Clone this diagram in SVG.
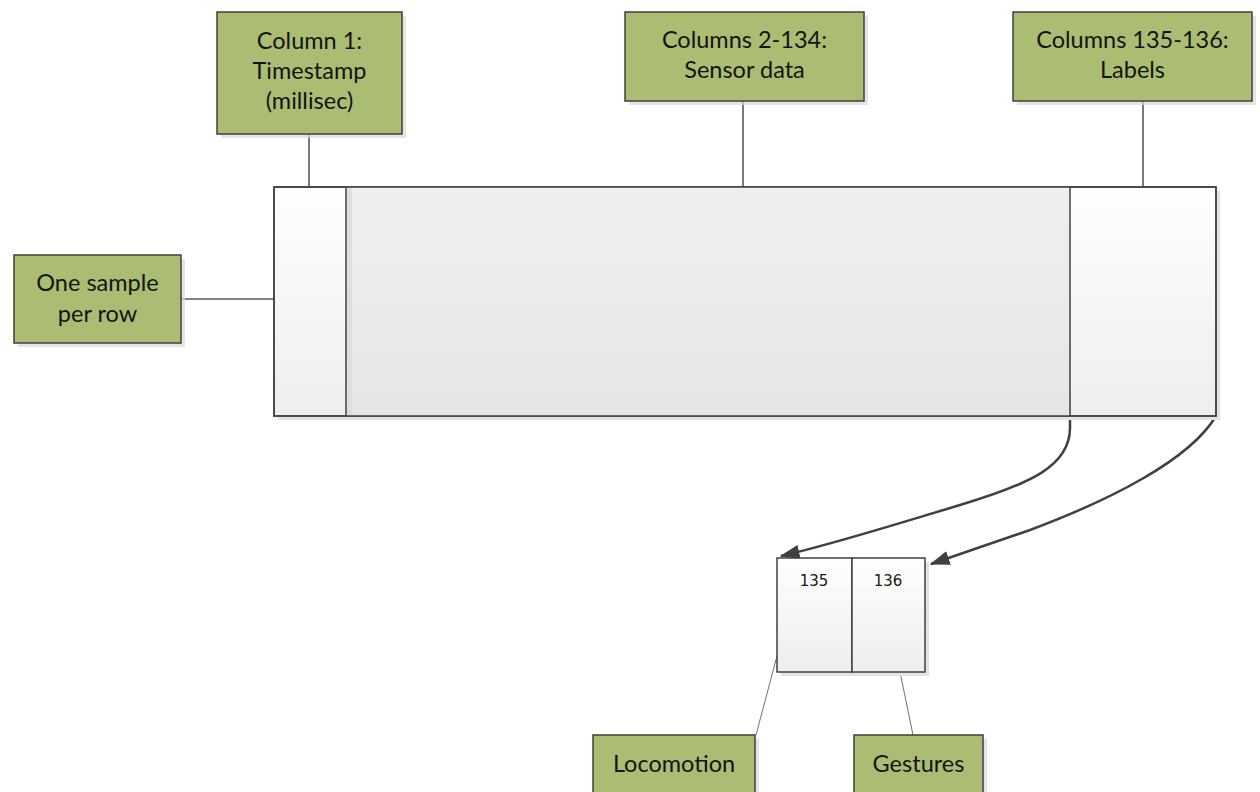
<svg xmlns="http://www.w3.org/2000/svg" width="1260" height="792" viewBox="0 0 1260 792">
<style>
.lbl{fill:#aabd72;stroke:#3f3f3f;stroke-width:1.5}
.shd{fill:#d9d9d9;opacity:0.7}
.t{font-family:Lato,"Open Sans",sans-serif;font-size:23.5px;fill:#141414;text-anchor:middle}
.n{font-family:"DejaVu Sans",sans-serif;font-size:15px;fill:#1a1a1a;text-anchor:middle}
.cell{stroke:#404040;stroke-width:1.5}
.con{fill:none;stroke:#595959;stroke-width:1.6}
.thin{fill:none;stroke:#707070;stroke-width:1}
.arc{fill:none;stroke:#404040;stroke-width:2.5}
</style>
<defs>
<linearGradient id="wg" x1="0" y1="0" x2="0" y2="1">
<stop offset="0" stop-color="#fefefe"/>
<stop offset="1" stop-color="#eeeeee"/>
</linearGradient>
<linearGradient id="mg" x1="0" y1="0" x2="0" y2="1">
<stop offset="0" stop-color="#efefef"/>
<stop offset="1" stop-color="#e6e6e6"/>
</linearGradient>
<marker id="ah" viewBox="0 0 14 10" refX="13" refY="5" markerWidth="8" markerHeight="5.7" orient="auto" markerUnits="strokeWidth">
<path d="M0,0 L14,5 L0,10 z" fill="#404040"/>
</marker>
</defs>
<rect width="1260" height="792" fill="#ffffff"/>

<g id="connectors">
<line class="con" x1="309" y1="134" x2="309" y2="187"/>
<line class="con" x1="743" y1="101" x2="743" y2="187"/>
<line class="con" x1="1143" y1="101" x2="1143" y2="187"/>
<line class="con" x1="181" y1="299" x2="274" y2="299"/>
<path class="arc" d="M1070,416 L1070,428 C1070,466 1030,484 960,505 C890,526 830,545 781,556" marker-end="url(#ah)"/>
<path class="arc" d="M1216,416 C1190,460 1110,500 1030,530 L931,564" marker-end="url(#ah)"/>
<line class="thin" x1="756" y1="735" x2="777" y2="656"/>
<line class="thin" x1="913" y1="735" x2="900" y2="672"/>
</g>

<g id="data-table">
<rect x="278" y="191" width="942" height="229" fill="#e3e3e3"/>
<rect class="cell" x="274" y="187" width="942" height="229" fill="url(#wg)"/>
<rect x="346" y="187" width="724" height="229" fill="url(#mg)"/>
<rect x="347" y="188" width="5" height="227" fill="#dedede"/>
<rect class="cell" x="274" y="187" width="942" height="229" fill="none"/>
<line class="cell" x1="346" y1="187" x2="346" y2="416"/>
<line class="cell" x1="1070" y1="187" x2="1070" y2="416"/>
</g>

<g id="label-cells">
<rect x="781" y="562" width="148" height="114" fill="#e3e3e3"/>
<rect class="cell" x="777" y="558" width="75" height="114" fill="url(#wg)"/>
<rect class="cell" x="852" y="558" width="73" height="114" fill="url(#wg)"/>
<text class="n" x="814" y="586">135</text>
<text class="n" x="888" y="586">136</text>
</g>

<g id="timestamp">
<rect class="shd" x="221" y="16" width="185" height="122"/>
<rect class="lbl" x="217" y="12" width="185" height="122"/>
<text class="t" x="309.5" y="49">Column 1:</text>
<text class="t" x="309.5" y="79">Timestamp</text>
<text class="t" x="309.5" y="109">(millisec)</text>
</g>

<g id="sensor">
<rect class="shd" x="629" y="16" width="239" height="89"/>
<rect class="lbl" x="625" y="12" width="239" height="89"/>
<text class="t" x="744.5" y="48">Columns 2-134:</text>
<text class="t" x="744.5" y="78">Sensor data</text>
</g>

<g id="labels">
<rect class="shd" x="1017" y="16" width="239" height="89"/>
<rect class="lbl" x="1013" y="12" width="239" height="89"/>
<text class="t" x="1132.5" y="48">Columns 135-136:</text>
<text class="t" x="1132.5" y="78">Labels</text>
</g>

<g id="sample">
<rect class="shd" x="18" y="259" width="167" height="88"/>
<rect class="lbl" x="14" y="255" width="167" height="88"/>
<text class="t" x="97.5" y="291">One sample</text>
<text class="t" x="97.5" y="322">per row</text>
</g>

<g id="locomotion">
<rect class="shd" x="597" y="739" width="162" height="60"/>
<rect class="lbl" x="593" y="735" width="162" height="64"/>
<text class="t" x="674" y="772">Locomotion</text>
</g>

<g id="gestures">
<rect class="shd" x="858" y="739" width="129" height="60"/>
<rect class="lbl" x="854" y="735" width="129" height="64"/>
<text class="t" x="918.5" y="772">Gestures</text>
</g>
</svg>
